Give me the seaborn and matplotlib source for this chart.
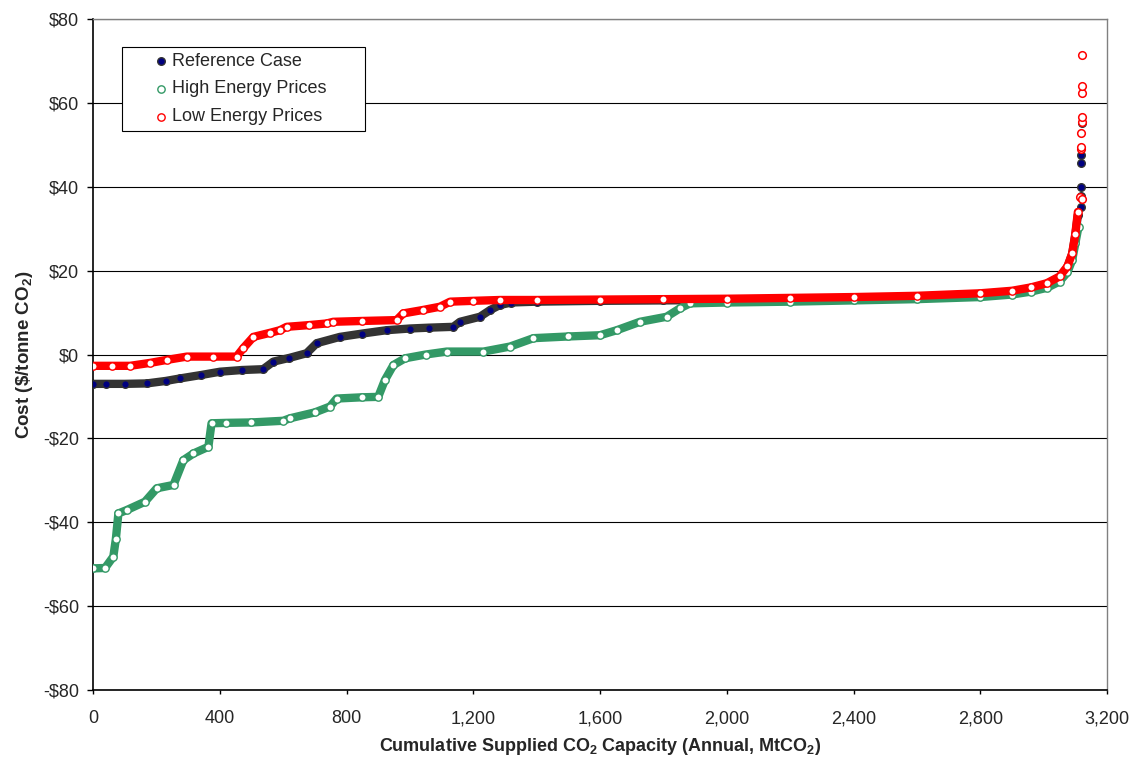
import matplotlib
matplotlib.use("Agg")
import matplotlib.pyplot as plt
import matplotlib.ticker as mticker
import pandas as pd
import seaborn as sns

# Cumulative supplied capacity (MtCO2) and cost ($/tonne CO2)
ref_x = [0, 40, 100, 169, 230, 275, 340, 401, 470, 537, 569, 620, 674, 706, 779, 850,
         927, 1000, 1060, 1137, 1158, 1221, 1253, 1284, 1320, 1400, 1600, 1800, 2000,
         2200, 2400, 2600, 2800, 2900, 2960, 3010, 3050, 3075, 3090, 3100, 3108]
ref_y = [-7.0, -7.0, -7.0, -6.9, -6.3, -5.7, -4.9, -4.1, -3.7, -3.5, -1.7, -0.8, 0.3, 2.7,
         4.2, 5.0, 5.8, 6.2, 6.4, 6.6, 7.8, 9.0, 10.6, 11.8, 12.4, 12.6, 12.8, 12.9, 13.0,
         13.2, 13.4, 13.8, 14.4, 15.0, 15.8, 16.8, 18.4, 20.8, 24.0, 28.5, 33.3]
ref_tail_x = [3118, 3118, 3119, 3119, 3119, 3120]
ref_tail_y = [35.2, 37.8, 40.0, 45.6, 47.6, 55.1]

high_x = [0, 38, 64, 72, 80, 106, 164, 201, 254, 285, 317, 364, 374, 420, 500, 600, 622,
          700, 748, 769, 850, 900, 921, 948, 985, 1050, 1116, 1232, 1316, 1390, 1500, 1600,
          1653, 1726, 1810, 1852, 1884, 2000, 2200, 2400, 2600, 2800, 2900, 2960, 3010,
          3050, 3075, 3090, 3100, 3110]
high_y = [-51.0, -50.9, -48.2, -44.0, -37.9, -37.1, -35.1, -31.9, -31.1, -25.2, -23.6, -22.0,
          -16.4, -16.3, -16.2, -15.8, -15.2, -13.8, -12.4, -10.5, -10.2, -10.1, -6.1, -2.5,
          -0.9, 0.0, 0.7, 0.7, 1.9, 3.9, 4.3, 4.6, 5.8, 7.8, 9.0, 11.0, 12.2, 12.4, 12.6,
          12.9, 13.2, 13.7, 14.3, 15.0, 15.9, 17.4, 19.6, 22.5, 26.5, 30.5]

low_x = [0, 60, 117, 180, 232, 296, 380, 453, 474, 506, 560, 590, 611, 680, 737, 758, 850,
         958, 979, 1040, 1095, 1127, 1200, 1284, 1400, 1600, 1800, 2000, 2200, 2400, 2600,
         2800, 2900, 2960, 3010, 3050, 3075, 3090, 3100, 3108]
low_y = [-2.7, -2.7, -2.7, -2.0, -1.3, -0.5, -0.5, -0.5, 1.5, 4.2, 5.2, 5.8, 6.6, 7.0, 7.4,
         7.8, 8.0, 8.2, 9.8, 10.6, 11.4, 12.6, 12.8, 13.0, 13.0, 13.1, 13.2, 13.3, 13.5,
         13.7, 14.0, 14.6, 15.2, 16.0, 17.0, 18.6, 21.0, 24.1, 28.8, 34.0]
low_tail_x = [3116, 3118, 3119, 3119, 3120, 3120, 3120, 3120, 3120, 3120]
low_tail_y = [37.6, 48.9, 49.5, 52.7, 55.5, 56.6, 62.3, 64.1, 71.3, 37.0]

ref_df = pd.DataFrame({"x": ref_x, "y": ref_y})
ref_tail = pd.DataFrame({"x": ref_tail_x, "y": ref_tail_y})
high_df = pd.DataFrame({"x": high_x, "y": high_y})
low_df = pd.DataFrame({"x": low_x, "y": low_y})
low_tail = pd.DataFrame({"x": low_tail_x, "y": low_tail_y})

sns.set_style("white")
plt.rcParams["font.family"] = ["Liberation Sans", "DejaVu Sans"]
plt.rcParams["mathtext.fontset"] = "custom"
plt.rcParams["mathtext.rm"] = "Liberation Sans"
plt.rcParams["mathtext.bf"] = "Liberation Sans:bold"

fig = plt.figure(figsize=(11.36, 7.57), dpi=100)
ax = fig.add_axes([0.0819, 0.0885, 0.8926, 0.8864])

navy = "#000080"
dark = "#333333"
green = "#339966"
red = "#ff0000"
band = 6.0

# reference case: dark band with filled navy markers
sns.lineplot(data=ref_df, x="x", y="y", ax=ax, color=dark, lw=band,
             solid_capstyle="round", solid_joinstyle="round", sort=False, zorder=2)
sns.scatterplot(data=ref_df, x="x", y="y", ax=ax, color=navy, edgecolor=dark,
                s=30, linewidth=1.0, zorder=3, label="Reference Case")
sns.scatterplot(data=ref_tail, x="x", y="y", ax=ax, color=navy, edgecolor=dark,
                s=30, linewidth=1.0, zorder=3, legend=False)

# high energy prices: green open circles
sns.lineplot(data=high_df, x="x", y="y", ax=ax, color=green, lw=band,
             solid_capstyle="round", solid_joinstyle="round", sort=False, zorder=4)
sns.scatterplot(data=high_df, x="x", y="y", ax=ax, color="white", edgecolor=green,
                s=28, linewidth=1.0, zorder=5, label="High Energy Prices")

# low energy prices: red open circles
sns.lineplot(data=low_df, x="x", y="y", ax=ax, color=red, lw=band,
             solid_capstyle="round", solid_joinstyle="round", sort=False, zorder=6)
sns.scatterplot(data=low_df, x="x", y="y", ax=ax, color="white", edgecolor=red,
                s=28, linewidth=1.0, zorder=7, label="Low Energy Prices")
sns.scatterplot(data=low_tail, x="x", y="y", ax=ax, color="white", edgecolor=red,
                s=30, linewidth=1.1, zorder=7, legend=False)

ax.set_xlim(0, 3200)
ax.set_ylim(-80, 80)
ax.xaxis.set_major_locator(mticker.MultipleLocator(400))
ax.yaxis.set_major_locator(mticker.MultipleLocator(20))
ax.xaxis.set_major_formatter(mticker.FuncFormatter(lambda v, p: f"{int(v):,}"))
ax.yaxis.set_major_formatter(mticker.FuncFormatter(
    lambda v, p: f"-${abs(int(v))}" if v < 0 else f"${int(v)}"))

ax.grid(axis="y", color="#000000", lw=0.8)
ax.grid(axis="x", visible=False)
ax.set_axisbelow(True)
ax.tick_params(axis="both", which="major", direction="out", width=1,
               color="black", labelsize=13, left=True, bottom=True)
ax.tick_params(axis="x", length=3, pad=11.5)
ax.tick_params(axis="y", length=4.3, pad=5.8)
for side in ["left", "bottom"]:
    ax.spines[side].set_color("black")
    ax.spines[side].set_linewidth(1.2)
for side in ["top", "right"]:
    ax.spines[side].set_color("#808080")
    ax.spines[side].set_linewidth(1.0)

ax.set_xlabel(r"Cumulative Supplied CO$_\mathbf{2}$ Capacity (Annual, MtCO$_\mathbf{2}$)",
              fontsize=13, fontweight="bold")
ax.set_ylabel(r"Cost (\$/tonne CO$_\mathbf{2}$)", fontsize=13.5, fontweight="bold")
ax.xaxis.set_label_coords(0.5, -0.069)
ax.yaxis.set_label_coords(-0.0575, 0.5)

leg = ax.legend(loc="upper left", bbox_to_anchor=(0.0286, 0.0, 0.2396, 0.958),
                mode="expand", fontsize=13,
                frameon=True, fancybox=False, framealpha=1, edgecolor="black",
                borderpad=0.3, handlelength=3.7, handletextpad=-1.25, labelspacing=0.6,
                borderaxespad=0)
leg.get_frame().set_linewidth(0.8)

fig.savefig("out.png", dpi=100)
